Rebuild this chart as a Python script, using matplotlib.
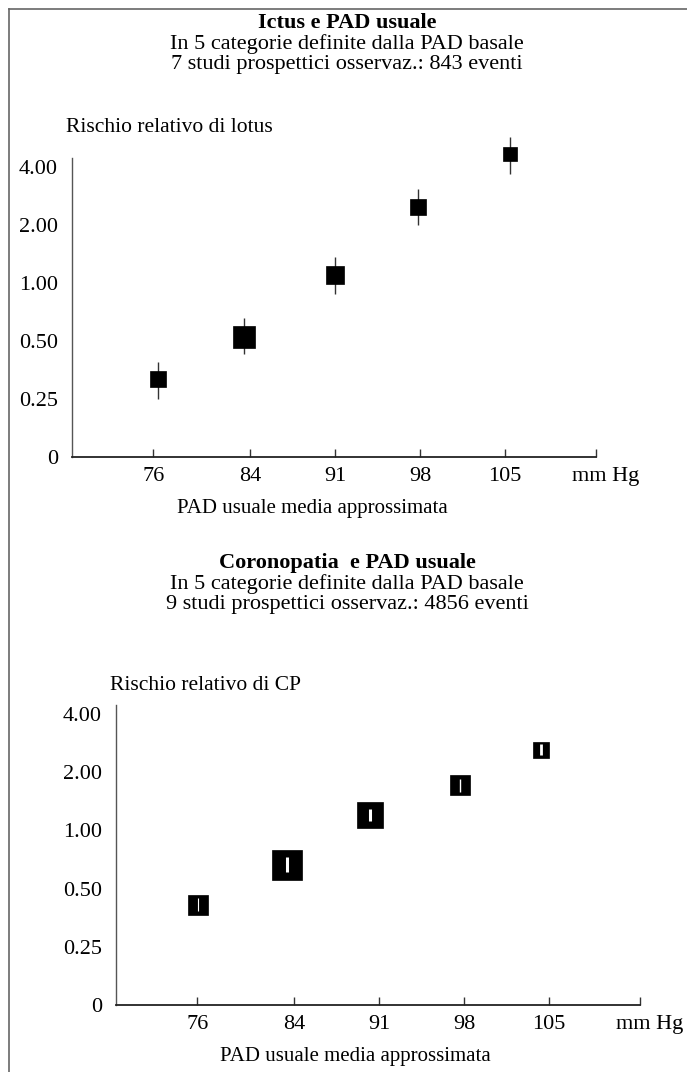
import matplotlib
matplotlib.use("Agg")
import matplotlib.pyplot as plt
from matplotlib.lines import Line2D
from matplotlib.ticker import NullLocator

plt.rcParams['font.family'] = ['Liberation Serif', 'DejaVu Serif']

# ---------------- data ----------------
bp_ticks = [76, 84, 91, 98, 105]
bp_tick_labels = ['76', '84', '91', '98', '105']
y_ticks = [0.125, 0.25, 0.5, 1.0, 2.0, 4.0]
y_tick_labels = ['0', '0.25', '0.50', '1.00', '2.00', '4.00']

# Ictus (stroke)
ictus_x = [76.4, 83.5, 91.0, 97.8, 105.4]
ictus_rr = [0.316, 0.522, 1.105, 2.48, 4.67]
ictus_lo = [0.25, 0.426, 0.88, 2.00, 3.68]
ictus_hi = [0.387, 0.654, 1.37, 3.08, 5.72]

# Coronopatia (CHD)
cp_x = [76.1, 83.4, 90.2, 97.7, 104.3]
cp_rr = [0.411, 0.662, 1.20, 1.71, 2.60]
cp_lo = [0.382, 0.608, 1.116, 1.57, 2.45]
cp_hi = [0.448, 0.729, 1.29, 1.84, 2.80]

# ---------------- style ----------------
ictus_ms = [12.2, 15.5, 12.6, 11.2, 10.0]
cp_ms = [15.0, 21.0, 18.7, 15.0, 12.0]
cp_ci_lw = [0.8, 2.2, 2.2, 1.0, 2.0]
FS = 16
W, H = 687, 1072

fig = plt.figure(figsize=(W / 100, H / 100), dpi=100)


def fx(px):
    return px / W


def fy(py):
    return 1 - py / H


def setup(ax):
    ax.set_yscale('log', base=2)
    ax.set_ylim(0.125, 4.45)
    ax.set_xlim(69.3, 112.5)
    ax.set_yticks(y_ticks)
    ax.set_yticklabels(y_tick_labels)
    ax.yaxis.set_minor_locator(NullLocator())
    ax.tick_params(axis='y', length=0, pad=10, labelsize=FS)
    ax.set_xticks(bp_ticks + [112.5])
    ax.set_xticklabels(bp_tick_labels + [''])
    ax.tick_params(axis='x', direction='in', length=6, width=1.0,
                   pad=7, labelsize=FS, color='#333333')
    for s in ('top', 'right'):
        ax.spines[s].set_visible(False)
    ax.spines['left'].set_color('#555555')
    ax.spines['left'].set_linewidth(1.0)
    ax.spines['bottom'].set_color('#222222')
    ax.spines['bottom'].set_linewidth(1.3)
    ax.annotate('mm Hg', xy=(1, 0), xycoords='axes fraction',
                xytext=(7, -7), textcoords='offset points',
                ha='center', va='top', fontsize=FS)


# ---------------- top panel ----------------
ax1 = fig.add_axes([fx(72), fy(457), fx(596) - fx(72), fy(158) - fy(457)])
setup(ax1)
ax1.vlines(ictus_x, ictus_lo, ictus_hi, color='#333333', lw=1.0,
           clip_on=False, zorder=2)
for x, y, ms in zip(ictus_x, ictus_rr, ictus_ms):
    ax1.plot([x], [y], marker='s', ms=ms, color='black', mec='black',
             mew=0.5, clip_on=False, zorder=3)

# ---------------- bottom panel ----------------
ax2 = fig.add_axes([fx(116), fy(1005), fx(640) - fx(116), fy(705) - fy(1005)])
setup(ax2)
for x, y, ms in zip(cp_x, cp_rr, cp_ms):
    ax2.plot([x], [y], marker='s', ms=ms, color='black', mec='black',
             mew=0.5, clip_on=False, zorder=3)
for x, lo, hi, lw in zip(cp_x, cp_lo, cp_hi, cp_ci_lw):
    ax2.vlines([x], [lo], [hi], color='white', lw=lw, zorder=4)

# ---------------- texts ----------------
fig.text(fx(347), fy(23), 'Ictus e PAD usuale', ha='center', va='center',
         fontsize=FS, fontweight='bold')
fig.text(fx(347), fy(44), 'In 5 categorie definite dalla PAD basale',
         ha='center', va='center', fontsize=FS)
fig.text(fx(347), fy(64), '7 studi prospettici osservaz.: 843 eventi',
         ha='center', va='center', fontsize=FS)
fig.text(fx(66), fy(128), 'Rischio relativo di lotus', ha='left',
         va='center', fontsize=15.5)
fig.text(fx(312), fy(509), 'PAD usuale media approssimata', ha='center',
         va='center', fontsize=15)

fig.text(fx(347), fy(563), 'Coronopatia  e PAD usuale', ha='center',
         va='center', fontsize=FS, fontweight='bold')
fig.text(fx(347), fy(584), 'In 5 categorie definite dalla PAD basale',
         ha='center', va='center', fontsize=FS)
fig.text(fx(347), fy(605), '9 studi prospettici osservaz.: 4856 eventi',
         ha='center', va='center', fontsize=FS)
fig.text(fx(110), fy(686), 'Rischio relativo di CP', ha='left',
         va='center', fontsize=15.5)
fig.text(fx(355), fy(1056), 'PAD usuale media approssimata', ha='center',
         va='center', fontsize=15)

# ---------------- frame ----------------
fig.add_artist(Line2D([fx(9), fx(9)], [0, fy(9)], transform=fig.transFigure,
                      color='#666666', lw=1.2))
fig.add_artist(Line2D([fx(9), 1], [fy(9), fy(9)], transform=fig.transFigure,
                      color='#666666', lw=1.2))

fig.savefig('out.png', dpi=100)
